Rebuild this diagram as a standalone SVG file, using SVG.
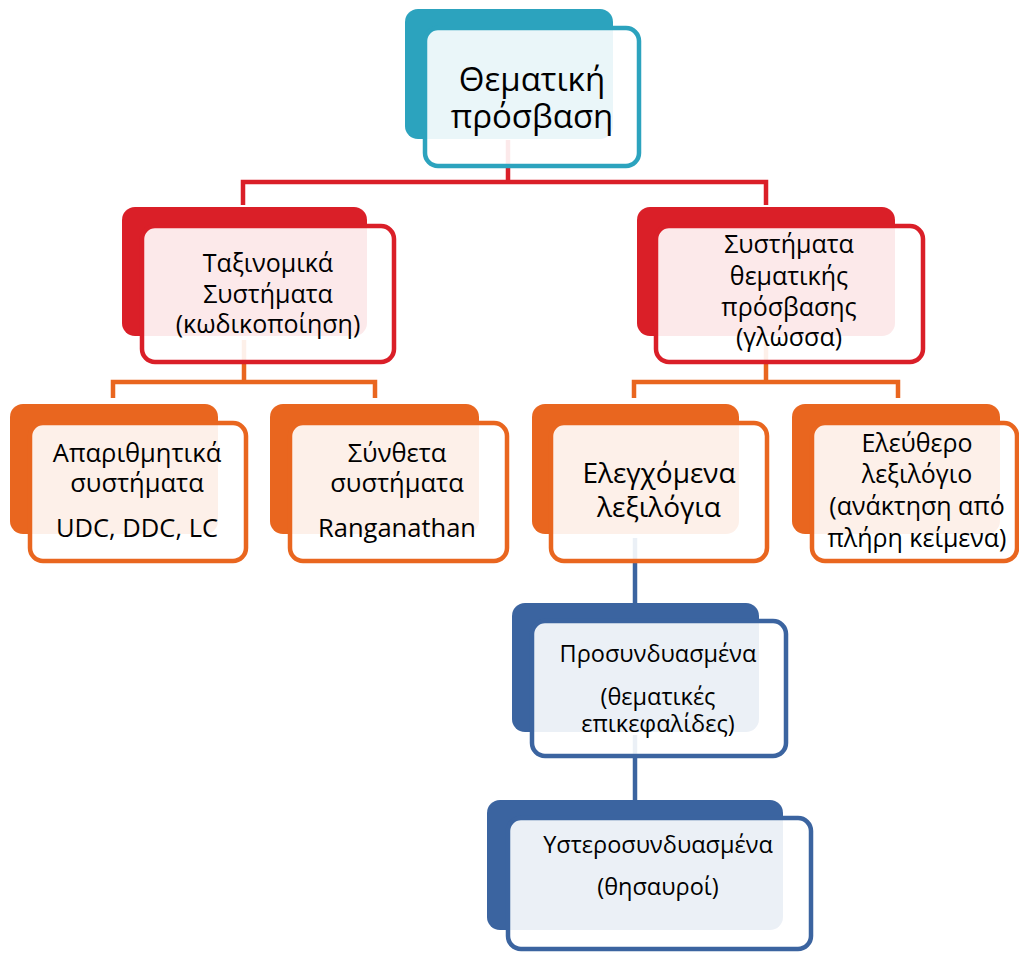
<svg xmlns="http://www.w3.org/2000/svg" width="1019" height="953" viewBox="0 0 1019 953">
<style>
text{font-family:"Open Sans","Noto Sans","DejaVu Sans",sans-serif;fill:#000;text-anchor:middle}
.front{fill:#fff;fill-opacity:0.9;stroke-width:4.5}
.conn{fill:none;stroke-width:4.5}
.teal{fill:#2CA3BE}.tealS{stroke:#2CA3BE}
.red{fill:#DA1F28}.redS{stroke:#DA1F28}
.or{fill:#E9661F}.orS{stroke:#E9661F}
.bl{fill:#3B64A0}.blS{stroke:#3B64A0}
</style>
<rect width="1019" height="953" fill="#fff"/>
<g id="connectors">
<path class="conn redS" d="M508,140V182M243,205V182H766V205"/>
<path class="conn orS" d="M244,340V382M113,398V382H375V398"/>
<path class="conn orS" d="M766,340V382M634,398V382H898V398"/>
<path class="conn blS" d="M635,538V603"/>
<path class="conn blS" d="M635,735V800"/>
</g>
<g id="n0">
<rect class="teal" x="405" y="9" width="208" height="130" rx="13"/>
<rect class="front tealS" x="425" y="28" width="214" height="138" rx="13"/>
<text font-size="33"><tspan x="532" y="91">Θεματική</tspan><tspan x="532" y="128">πρόσβαση</tspan></text>
</g>
<g id="n1">
<rect class="red" x="122" y="207" width="245" height="129" rx="13"/>
<rect class="front redS" x="142" y="226" width="252" height="136" rx="13"/>
<text font-size="25"><tspan x="268" y="272">Ταξινομικά</tspan><tspan x="268" y="303">Συστήματα</tspan><tspan x="268" y="333">(κωδικοποίηση)</tspan></text>
</g>
<g id="n2">
<rect class="red" x="637" y="207" width="258" height="129" rx="13"/>
<rect class="front redS" x="656" y="226" width="267" height="136" rx="13"/>
<text font-size="25"><tspan x="789" y="253">Συστήματα</tspan><tspan x="789" y="285">θεματικής</tspan><tspan x="789" y="316">πρόσβασης</tspan><tspan x="789" y="346">(γλώσσα)</tspan></text>
</g>
<g id="n3">
<rect class="or" x="10" y="404" width="208" height="130" rx="13"/>
<rect class="front orS" x="30" y="423" width="216" height="138" rx="13"/>
<text font-size="25.5"><tspan x="137" y="462">Απαριθμητικά</tspan><tspan x="137" y="492">συστήματα</tspan><tspan x="137" y="537">UDC, DDC, LC</tspan></text>
</g>
<g id="n4">
<rect class="or" x="270" y="404" width="209" height="130" rx="13"/>
<rect class="front orS" x="290" y="423" width="217" height="138" rx="13"/>
<text font-size="25.5"><tspan x="397" y="462">Σύνθετα</tspan><tspan x="397" y="492">συστήματα</tspan><tspan x="397" y="537">Ranganathan</tspan></text>
</g>
<g id="n5">
<rect class="or" x="532" y="404" width="207" height="130" rx="13"/>
<rect class="front orS" x="551" y="423" width="216" height="138" rx="13"/>
<text font-size="28"><tspan x="659" y="483">Ελεγχόμενα</tspan><tspan x="659" y="517">λεξιλόγια</tspan></text>
</g>
<g id="n6">
<rect class="or" x="792" y="404" width="208" height="130" rx="13"/>
<rect class="front orS" x="812" y="423" width="205" height="138" rx="13"/>
<text font-size="25"><tspan x="917" y="452">Ελεύθερο</tspan><tspan x="917" y="483">λεξιλόγιο</tspan><tspan x="917" y="515">(ανάκτηση από</tspan><tspan x="917" y="547">πλήρη κείμενα)</tspan></text>
</g>
<g id="n7">
<rect class="bl" x="512" y="603" width="247" height="129" rx="13"/>
<rect class="front blS" x="532" y="621" width="254" height="135" rx="13"/>
<text font-size="23.5"><tspan x="658" y="662">Προσυνδυασμένα</tspan><tspan x="658" y="705">(θεματικές</tspan><tspan x="658" y="732">επικεφαλίδες)</tspan></text>
</g>
<g id="n8">
<rect class="bl" x="487" y="800" width="296" height="130" rx="13"/>
<rect class="front blS" x="508" y="818" width="303" height="131" rx="13"/>
<text font-size="23.5"><tspan x="658" y="853">Υστεροσυνδυασμένα</tspan><tspan x="658" y="895">(θησαυροί)</tspan></text>
</g>
</svg>
